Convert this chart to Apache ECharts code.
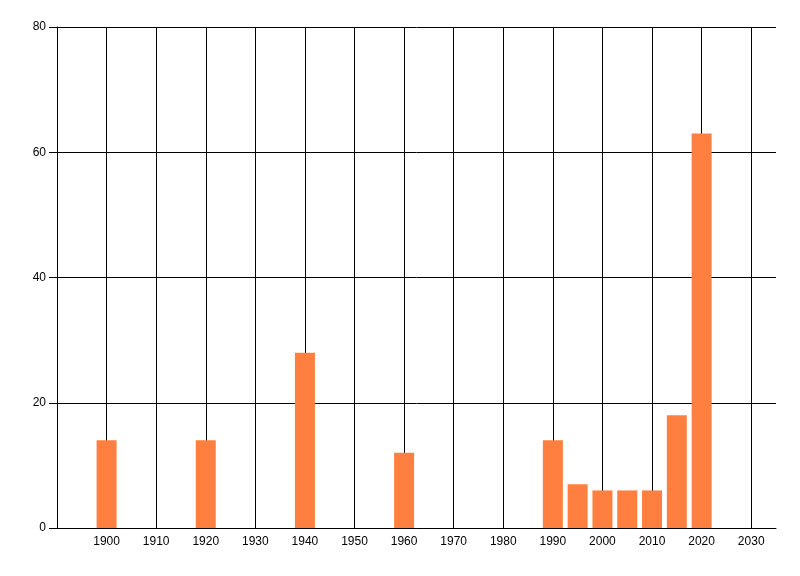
<!DOCTYPE html>
<html><head><meta charset="utf-8">
<script src="https://cdn.jsdelivr.net/npm/echarts@6/dist/echarts.min.js"></script>
<style>html,body{margin:0;padding:0;background:#fff}#c{width:800px;height:576px}</style>
</head><body><div id="c"></div>
<script>
var years = [1900, 1920, 1940, 1960, 1990, 1995, 2000, 2005, 2010, 2015, 2020];
var counts = [14, 14, 28, 12, 14, 7, 6, 6, 6, 18, 63];
var xMin = 1890, xMax = 2035, xStep = 10;
var yMin = 0, yMax = 80, yStep = 20;

var chart = echarts.init(document.getElementById('c'), null, {renderer: 'canvas'});
var font = {color: '#000', fontSize: 12, fontFamily: 'Liberation Sans, Arial, sans-serif'};
chart.setOption({
  animation: false,
  backgroundColor: '#fff',
  grid: {left: 57, right: 24, top: 27, bottom: 48, containLabel: false},
  xAxis: {
    type: 'value', min: xMin, max: xMax, interval: xStep,
    axisLine: {show: true, lineStyle: {color: '#000', width: 1}},
    axisTick: {show: false},
    axisLabel: Object.assign({
      margin: 8,
      showMaxLabel: false,
      formatter: function (v) { return (v > xMin && v % 10 === 0) ? String(v) : ''; }
    }, font),
    splitLine: {show: true, showMinLine: true, showMaxLine: false, lineStyle: {color: '#000', width: 1}}
  },
  yAxis: {
    type: 'value', min: yMin, max: yMax, interval: yStep,
    axisLine: {show: true, lineStyle: {color: '#000', width: 1}},
    axisTick: {show: true, length: 8, lineStyle: {color: '#000'}},
    axisLabel: Object.assign({margin: 11}, font),
    splitLine: {show: true, lineStyle: {color: '#000', width: 1}}
  },
  series: [{
    type: 'bar',
    barWidth: 20,
    itemStyle: {color: '#FF7F41'},
    data: years.map(function (y, i) { return [y, counts[i]]; }),
    z: 3
  }]
});
</script></body></html>
